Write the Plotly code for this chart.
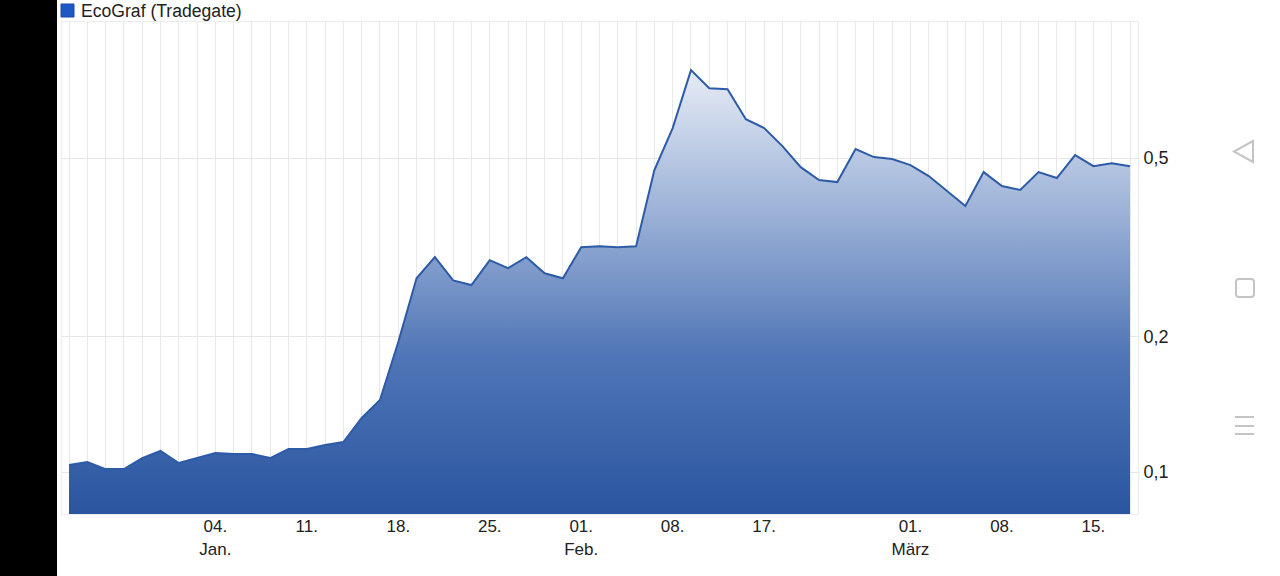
import plotly.graph_objects as go

# ---- data ----
series_name = "EcoGraf (Tradegate)"
prices = [
    0.1036, 0.1052, 0.1015, 0.1015, 0.1074, 0.1114, 0.1047, 0.1074, 0.1102, 0.1097,
    0.1097, 0.1074, 0.1125, 0.1125, 0.1148, 0.1166, 0.1319, 0.1447, 0.1948, 0.2700,
    0.3008, 0.2670, 0.2607, 0.2962, 0.2845, 0.3008, 0.2770, 0.2700, 0.3166, 0.3182,
    0.3166, 0.3182, 0.4700, 0.5832, 0.7849, 0.7155, 0.7119, 0.6102, 0.5832, 0.5317,
    0.4772, 0.4467, 0.4421, 0.5236, 0.5025, 0.4974, 0.4822, 0.4560, 0.4222, 0.3909,
    0.4653, 0.4334, 0.4245, 0.4653, 0.4513, 0.5077, 0.4797, 0.4871, 0.4797,
]
x_label_pos = [8, 13, 18, 23, 28, 33, 38, 46, 51, 56]
x_label_text = ["04.<br>Jan.", "11.", "18.", "25.", "01.<br>Feb.", "08.", "17.",
                "01.<br>März", "08.", "15."]
y_tick_vals = [0.1, 0.2, 0.5]
y_tick_text = ["0,1", "0,2", "0,5"]

idx = list(range(len(prices)))
ticktext_all = [""] * len(prices)
for p, t in zip(x_label_pos, x_label_text):
    ticktext_all[p] = t

# ---- layout geometry (pixels) ----
W, H = 1280, 576
L, R, T, B = 62, 142, 22, 62
pw, ph = W - L - R, H - T - B

def px(xp):
    return (xp - L) / pw

def py(yp):
    return (H - B - yp) / ph

fig = go.Figure()
fig.add_trace(go.Scatter(
    x=idx, y=prices, mode="lines", name=series_name,
    line=dict(color="#2d5ba8", width=2),
    fill="tozeroy",
    fillgradient=dict(type="vertical",
                      colorscale=[[0, "#2a55a0"], [0.35, "#4f75b6"], [1, "#e6ecf6"]],
                      start=0.0806, stop=max(prices)),
    showlegend=False, hoverinfo="skip",
))

# rounded square icon path
x0s, x1s, y0s, y1s, r = 1236, 1254, 279, 297, 3
rounded = (
    f"M {px(x0s + r)},{py(y0s)} L {px(x1s - r)},{py(y0s)} "
    f"Q {px(x1s)},{py(y0s)} {px(x1s)},{py(y0s + r)} L {px(x1s)},{py(y1s - r)} "
    f"Q {px(x1s)},{py(y1s)} {px(x1s - r)},{py(y1s)} L {px(x0s + r)},{py(y1s)} "
    f"Q {px(x0s)},{py(y1s)} {px(x0s)},{py(y1s - r)} L {px(x0s)},{py(y0s + r)} "
    f"Q {px(x0s)},{py(y0s)} {px(x0s + r)},{py(y0s)} Z"
)

shapes = [
    dict(type="rect", xref="paper", yref="paper", x0=px(0), x1=px(57), y0=py(H), y1=py(0),
         fillcolor="black", line=dict(width=0), layer="above"),
    dict(type="rect", xref="paper", yref="paper", x0=px(61), x1=px(74), y0=py(17), y1=py(4),
         fillcolor="#1f57c3", line=dict(color="#1a4aa6", width=1), layer="above"),
    dict(type="path", xref="paper", yref="paper",
         path=f"M {px(1253)},{py(141)} L {px(1234)},{py(151.5)} L {px(1253)},{py(162)} Z",
         line=dict(color="#c4c4c4", width=2), fillcolor="rgba(0,0,0,0)", layer="above"),
    dict(type="path", xref="paper", yref="paper", path=rounded,
         line=dict(color="#c4c4c4", width=2), fillcolor="rgba(0,0,0,0)", layer="above"),
]
for yy in (417, 426, 434):
    shapes.append(dict(type="line", xref="paper", yref="paper", x0=px(1235), x1=px(1254),
                       y0=py(yy), y1=py(yy), line=dict(color="#c4c4c4", width=2), layer="above"))

fig.update_layout(
    width=W, height=H,
    margin=dict(l=L, r=R, t=T, b=B, pad=0),
    paper_bgcolor="white", plot_bgcolor="white",
    font=dict(family="Liberation Sans, Arial, sans-serif", size=18, color="#222222"),
    separators=",.",
    shapes=shapes,
    annotations=[dict(text=series_name, xref="paper", yref="paper", x=px(79), y=py(11),
                      xanchor="left", yanchor="middle", showarrow=False,
                      font=dict(size=17.6, color="#222222"))],
    xaxis=dict(
        range=[-(69 - L) / 18.29, 58 + 8 / 18.29],
        tickmode="array", tickvals=idx, ticktext=ticktext_all,
        showgrid=True, gridcolor="#e8e8e8", gridwidth=1,
        showline=True, linecolor="#ececec", mirror=True,
        ticks="", zeroline=False, ticklabelstandoff=-3,
        tickfont=dict(size=17, color="#222222"),
    ),
    yaxis=dict(
        type="log", side="right",
        range=[-1.0935, 0.0019],
        tickmode="array", tickvals=y_tick_vals, ticktext=y_tick_text,
        showgrid=True, gridcolor="#e6e6e6", gridwidth=1,
        showline=True, linecolor="#ececec", mirror=True,
        ticks="outside", ticklen=1, tickcolor="#e6e6e6",
        zeroline=False, tickfont=dict(size=18, color="#222222"),
    ),
)

fig.write_html(
    "out.html",
    config={"displayModeBar": False},
    post_script="document.body.style.margin='0';document.body.style.padding='0';"
                "document.body.style.overflow='hidden';",
)
